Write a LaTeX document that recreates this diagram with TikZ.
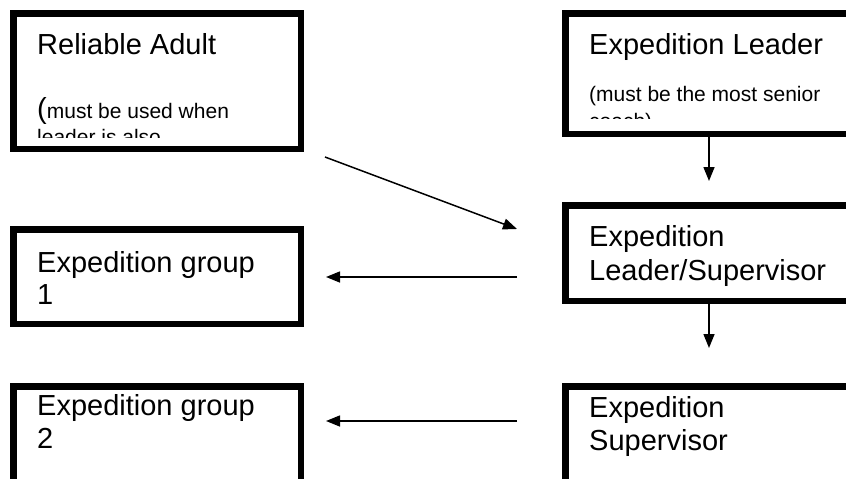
\documentclass[tikz,border=0pt]{standalone}
\usepackage{fontspec}
\setmainfont{Liberation Sans}
\usetikzlibrary{arrows.meta}
\tikzset{
  boxst/.style={draw=black, line width=6.5pt, inner sep=0pt, outer sep=0pt, anchor=north west, fill=white},
  txt/.style={anchor=base west, inner sep=0pt, font=\fontsize{29}{33}\selectfont},
  small/.style={anchor=base west, inner sep=0pt, font=\fontsize{21}{25}\selectfont},
  conn/.style={line width=1.5pt, -{Triangle[length=14pt,width=11pt]}}
}
\begin{document}
\begin{tikzpicture}[x=1pt,y=-1pt]
\useasboundingbox (0,0) rectangle (846,479);
\clip (0,0) rectangle (846,479);
% boxes
\node[boxst, minimum width=287.5pt, minimum height=135.5pt] (ra) at (13.25,13.25) {};
\node[boxst, minimum width=320pt, minimum height=120.5pt] (el) at (565.25,13.25) {};
\node[boxst, minimum width=287.5pt, minimum height=94.5pt] (g1) at (13.25,229.25) {};
\node[boxst, minimum width=320pt, minimum height=95.5pt] (ls) at (565.25,205.25) {};
\node[boxst, minimum width=287.5pt, minimum height=150pt] (g2) at (13.25,386.25) {};
\node[boxst, minimum width=320pt, minimum height=150pt] (es) at (565.25,386.25) {};
% texts
\begin{scope}
\clip (17,17) rectangle (297,137);
\node[txt] (ra1) at (37,54) {Reliable Adult};
\node[small] (ra2) at (37,118) {{\fontsize{29}{33}\selectfont(}must be used when};
\node[small] (ra3) at (37,144) {leader is also};
\end{scope}
\begin{scope}
\clip (569,17) rectangle (846,118);
\node[txt] (el1) at (589,54) {Expedition Leader};
\node[small] (el2) at (589,101) {(must be the most senior};
\node[small] (el3) at (589,128) {coach)};
\end{scope}
\node[txt] (g1a) at (37,272) {Expedition group};
\node[txt] (g1b) at (37,304) {1};
\node[txt] (ls1) at (589,246) {Expedition};
\node[txt] (ls2) at (589,280) {Leader/Supervisor};
\node[txt] (g2a) at (37,415) {Expedition group};
\node[txt] (g2b) at (37,448) {2};
\node[txt] (es1) at (589,417) {Expedition};
\node[txt] (es2) at (589,450) {Supervisor};
% connector endpoints
\coordinate (d0) at (325,157);
\coordinate (d1) at (517,229);
\coordinate (h1s) at (517,277);
\coordinate (h1e) at (326,277);
\coordinate (h2s) at (517,421);
\coordinate (h2e) at (326,421);
\coordinate (v1s) at (709,137);
\coordinate (v1e) at (709,181);
\coordinate (v2s) at (709,304);
\coordinate (v2e) at (709,348);
\draw[conn] (d0) -- (d1);
\draw[conn] (h1s) -- (h1e);
\draw[conn] (h2s) -- (h2e);
\draw[conn] (v1s) -- (v1e);
\draw[conn] (v2s) -- (v2e);
\end{tikzpicture}
\end{document}
